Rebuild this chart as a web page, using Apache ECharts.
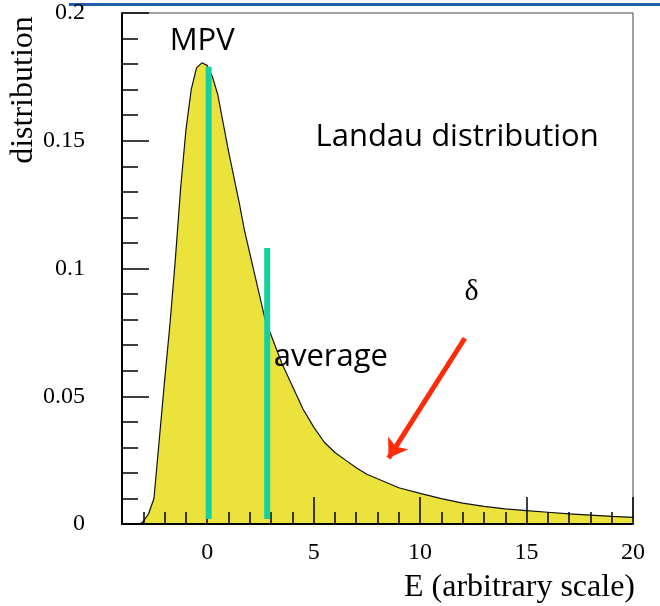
<!DOCTYPE html>
<html>
<head>
<meta charset="utf-8">
<script src="https://cdn.jsdelivr.net/npm/echarts@6/dist/echarts.min.js"></script>
<style>
  html, body { margin: 0; padding: 0; background: #fff; }
  #chart { width: 660px; height: 606px; }
</style>
</head>
<body>
<div id="chart"></div>
<script>
// Landau curve
const energy = [-3.15, -3.0, -2.75, -2.5, -2.25, -2.0, -1.75, -1.5, -1.25, -1.0, -0.75, -0.5, -0.25, 0,
  0.25, 0.5, 0.75, 1.0, 1.25, 1.5, 1.75, 2.0, 2.25, 2.5, 2.75, 3.0, 3.5, 4.0, 4.5, 5.0, 5.5, 6.0,
  6.5, 7.0, 7.5, 8.0, 9.0, 10, 11, 12, 13, 14, 15, 16, 17, 18, 19, 20];
const density = [0, 0.001, 0.004, 0.010, 0.033, 0.056, 0.078, 0.103, 0.131, 0.154, 0.170, 0.1785, 0.1805, 0.1795,
  0.175, 0.168, 0.157, 0.146, 0.136, 0.126, 0.115, 0.106, 0.097, 0.088, 0.079, 0.074, 0.063, 0.054, 0.045, 0.038, 0.032, 0.028,
  0.025, 0.022, 0.0195, 0.0177, 0.0142, 0.0120, 0.0099, 0.0082, 0.0069, 0.0059, 0.0052, 0.0046, 0.0040, 0.0035, 0.0030, 0.0026];

// vertical markers: MPV and average
const markerNames = ['MPV', 'average'];
const markerX = [0.07, 2.82];
const markerTop = [0.179, 0.108];
const markerBottom = [0.002, 0.002];

// delta-ray arrow (from -> to)
const arrowFrom = [12.1, 0.0727];
const arrowTo = [8.52, 0.0258];

// text notes
const notes = [
  { name: 'MPV', value: [-0.235, 0.1888] },
  { name: 'Landau distribution', value: [11.74, 0.1513] },
  { name: 'average', value: [5.81, 0.0653] }
];
const deltaNote = { name: 'δ', value: [12.42, 0.0907] };

const xLabelValues = [0, 5, 10, 15, 20];
const xMinorValues = [-3, -2, -1, 1, 2, 3, 4, 6, 7, 8, 9, 11, 12, 13, 14, 16, 17, 18, 19];

const chart = echarts.init(document.getElementById('chart'));

const serif = '"Liberation Serif", "DejaVu Serif", serif';
const sans = '"Open Sans", "Noto Sans", sans-serif';

const markerSeries = markerNames.map((n, i) => ({
  name: n,
  type: 'line',
  data: [[markerX[i], markerBottom[i]], [markerX[i], markerTop[i]]],
  symbol: 'none',
  lineStyle: { color: '#14d2a0', width: 6, cap: 'butt' },
  z: 15
}));

const option = {
  animation: false,
  backgroundColor: '#fff',
  grid: {
    left: 122, right: 27, top: 13, bottom: 82,
    show: true, borderColor: '#444', borderWidth: 1
  },
  xAxis: [
    {
      type: 'value', min: -4, max: 20, z: 10,
      axisLine: { show: true, onZero: false, lineStyle: { color: '#000', width: 2 } },
      axisTick: { show: true, inside: true, length: 27, customValues: xLabelValues, lineStyle: { color: '#000', width: 1.5 } },
      axisLabel: { customValues: xLabelValues, margin: 17, color: '#000', fontFamily: serif, fontSize: 24 },
      splitLine: { show: false }
    },
    {
      type: 'value', min: -4, max: 20, position: 'bottom', z: 10,
      axisLine: { show: false, onZero: false },
      axisTick: { show: true, inside: true, length: 12, customValues: xMinorValues, lineStyle: { color: '#000', width: 1.5 } },
      axisLabel: { show: false },
      splitLine: { show: false }
    }
  ],
  yAxis: {
    type: 'value', min: 0, max: 0.2, interval: 0.05, z: 10,
    axisLine: { show: true, onZero: false, lineStyle: { color: '#000', width: 2 } },
    axisTick: { show: true, inside: true, length: 27, lineStyle: { color: '#000', width: 1.5 } },
    minorTick: { show: true, splitNumber: 5, length: 16, lineStyle: { color: '#000', width: 1.5 } },
    axisLabel: { margin: 37, color: '#000', fontFamily: serif, fontSize: 24 },
    splitLine: { show: false }
  },
  graphic: [
    { type: 'line', shape: { x1: 69, y1: 4.5, x2: 660, y2: 4.5 }, style: { stroke: '#1f5fa8', lineWidth: 3 } },
    {
      type: 'text', x: 24, y: 90, rotation: Math.PI / 2,
      style: { text: 'distribution', font: '32px ' + serif, fill: '#000', align: 'center', verticalAlign: 'middle' }
    },
    {
      type: 'text', x: 635, y: 588,
      style: { text: 'E (arbitrary scale)', font: '32px ' + serif, fill: '#000', align: 'right', verticalAlign: 'middle' }
    }
  ],
  series: [
    {
      name: 'Landau',
      type: 'line',
      data: energy.map((e, i) => [e, density[i]]),
      symbol: 'none',
      lineStyle: { color: '#111', width: 1.2 },
      areaStyle: { color: '#ebe33c', opacity: 1 },
      z: 2
    },
    ...markerSeries,
    {
      name: 'arrow',
      type: 'line',
      data: [],
      markLine: {
        silent: true,
        symbol: ['none', 'arrow'],
        symbolSize: 18,
        label: { show: false },
        lineStyle: { color: '#ff2a0a', width: 5, type: 'solid' },
        data: [[{ coord: arrowFrom }, { coord: arrowTo }]]
      },
      z: 16
    },
    {
      name: 'notes',
      type: 'scatter',
      data: notes,
      symbolSize: 0,
      itemStyle: { opacity: 1 },
      label: {
        show: true, position: 'inside', formatter: '{b}',
        color: '#000', fontFamily: sans, fontSize: 31, textBorderWidth: 0
      },
      z: 17
    },
    {
      name: 'delta',
      type: 'scatter',
      data: [deltaNote],
      symbolSize: 0,
      itemStyle: { opacity: 1 },
      label: {
        show: true, position: 'inside', formatter: '{b}',
        color: '#000', fontFamily: serif, fontSize: 30, textBorderWidth: 0
      },
      z: 17
    }
  ]
};

chart.setOption(option);
</script>
</body>
</html>
